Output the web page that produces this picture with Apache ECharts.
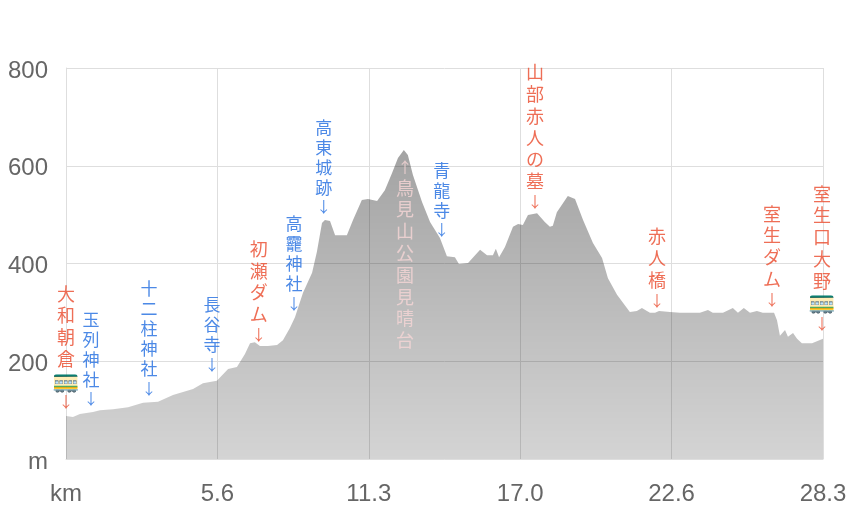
<!DOCTYPE html>
<html><head><meta charset="utf-8">
<style>html,body{margin:0;padding:0;background:#fff}#c{width:856px;height:510px}</style>
<script src="https://cdn.jsdelivr.net/npm/echarts@6/dist/echarts.min.js"></script>
</head><body><div id="c"></div>
<script>
const distanceKm = [0,.26,.52,1.01,1.27,1.76,2.32,2.88,3.44,4.0,4.75,5.12,5.64,6.06,6.39,6.69,6.88,7.06,7.25,7.55,7.89,8.11,8.37,8.56,8.86,9.2,9.38,9.57,9.68,9.87,10.06,10.24,10.5,10.73,11.06,11.29,11.63,11.92,12.19,12.41,12.63,12.78,12.97,13.31,13.61,13.98,14.24,14.54,14.69,15.03,15.48,15.74,15.96,16.07,16.19,16.41,16.71,16.9,17.08,17.27,17.61,17.9,18.09,18.2,18.35,18.76,19.03,19.33,19.7,20.04,20.26,20.6,21.08,21.34,21.53,21.83,22.02,22.17,22.58,22.95,23.7,24.0,24.18,24.56,24.93,25.12,25.34,25.57,25.83,26.05,26.47,26.58,26.69,26.88,26.99,27.18,27.33,27.51,27.89,28.3];
const elevationM = [88,86,92,96,100,102,106,115,117,131,143,155,160,184,188,215,237,239,231,231,233,243,268,290,340,381,424,483,489,487,458,458,458,489,530,532,528,550,585,616,632,622,581,526,485,452,415,413,399,401,428,417,417,430,413,434,475,481,479,499,503,485,475,477,505,538,532,489,442,411,370,336,301,303,309,299,299,303,301,299,299,305,299,299,309,299,309,299,303,299,299,284,252,264,250,258,246,237,237,246];
const xTickLabels = ['km','5.6','11.3','17.0','22.6','28.3'];
const yTicks = {0:'m',200:'200',400:'400',600:'600',800:'800'};

const placeNames = ['大和朝倉','玉列神社','十二柱神社','長谷寺','初瀬ダム','高龗神社','高東城跡','鳥見山公園見晴台','青龍寺','山部赤人の墓','赤人橋','室生ダム','室生口大野'];
const placeKm = [0,.93,3.1,5.46,7.21,8.52,9.64,12.67,14.05,17.53,22.09,26.39,28.26];
const placeM = [100,106,127,176,237,301,499,618,452,509,307,309,260];
const placeKind = ['station','shrine','shrine','shrine','spot','shrine','shrine','view','shrine','spot','spot','spot','station'];

const kindColor = {station:'#ea4a2c',spot:'#ea4a2c',shrine:'#1f6be0',view:'#f6d6d6'};
const FONT = '"Noto Sans CJK JP","Noto Sans CJK SC",sans-serif';

function labelOf(name, kind){
  const chars = name.split('').map(c=>'{t|'+c+'}');
  if(kind==='view') return ['{a|↑}'].concat(chars).join('\n');
  if(kind==='station') chars.push('{e|🚃}');
  chars.push('{a|↓}');
  return chars.join('\n');
}
const points = placeNames.map((n,i)=>{
  const kind = placeKind[i], color = kindColor[kind], lh = kind==='shrine'?20:21.8, fs = kind==='shrine'?17:18;
  return {
    value:[placeKm[i],placeM[i]],
    label:{
      show:true, position: kind==='view'?'bottom':'top', distance:0, align:'center',
      formatter: labelOf(n,kind),
      rich:{
        t:{fontFamily:FONT,fontSize:fs,lineHeight:lh,color:color,fontWeight:400,align:'center'},
        a:{fontFamily:FONT,fontSize:15,lineHeight:kind==='view'?20:18,color:color,align:'center'},
        e:{fontSize:22,lineHeight:22,align:'center',fontFamily:'"Noto Color Emoji",sans-serif'}
      }
    }
  };
});

const chart = echarts.init(document.getElementById('c'),null,{renderer:'canvas'});
const textColor = '#666';
const gridLine = {show:true,lineStyle:{color:'#dedede',width:1}};
const tickFont = '"Liberation Sans",Arial,sans-serif';
chart.setOption({
  animation:false,
  grid:{left:66,right:33,top:68,bottom:51},
  xAxis:{type:'value',min:0,max:28.3,interval:5.66,splitLine:gridLine,
    axisLine:{show:true,lineStyle:{color:'#dedede'}},axisTick:{show:false},
    axisLabel:{margin:23,color:textColor,fontSize:24,fontFamily:tickFont,
      showMinLabel:true,showMaxLabel:true,formatter:v=>xTickLabels[Math.round(v/5.66)]}},
  yAxis:{type:'value',min:0,max:800,interval:200,splitLine:gridLine,
    axisLine:{show:true,lineStyle:{color:'#dedede'}},axisTick:{show:false},
    axisLabel:{margin:18,color:textColor,fontSize:24,fontFamily:tickFont,formatter:v=>'{l|'+yTicks[v]+'}',
      rich:{l:{color:textColor,fontSize:24,fontFamily:tickFont,padding:[6,0,0,0]}}}},
  series:[
    {type:'line',data:distanceKm.map((k,i)=>[k,elevationM[i]]),symbol:'none',lineStyle:{width:0},silent:true,
     areaStyle:{opacity:1,color:new echarts.graphic.LinearGradient(0,0,0,1,[{offset:0,color:'rgba(0,0,0,0.36)'},{offset:1,color:'rgba(0,0,0,0.17)'}])}},
    {type:'scatter',data:points,symbolSize:0,clip:false,z:5,silent:true}
  ]
});
</script></body></html>
